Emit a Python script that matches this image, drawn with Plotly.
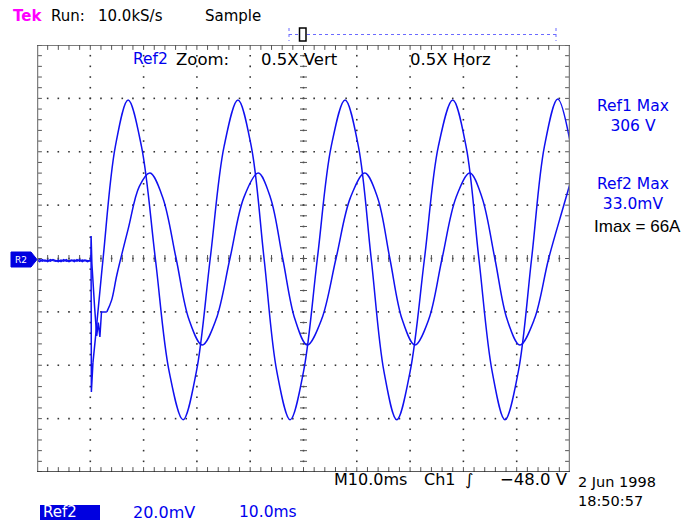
import numpy as np
import plotly.graph_objects as go

# ---------------- data (read from the screen) ----------------
# time in ms (10 ms/div, 10 div), amplitude in divisions
ref1_pre_t = [0.0, 0.5, 1.0, 1.5, 2.0, 2.5, 3.0, 3.5, 4.0, 4.5, 5.0, 5.5, 6.0, 6.5, 7.0,
              7.5, 8.0, 8.5, 9.0, 9.5, 10.0, 10.15, 10.2, 10.5]
ref1_pre_v = [-0.04, -0.02, -0.05, -0.03, -0.06, -0.02, -0.04, -0.05, -0.03, -0.06, -0.02,
              -0.05, -0.04, -0.03, -0.06, -0.02, -0.05, -0.03, -0.04, -0.06, -0.03, -0.03,
              -2.5, -1.95]
ref1_t = [10.5, 11.0, 12.4, 14.7, 17.1, 19.6, 22.2, 24.8, 27.4, 29.9, 32.5, 35.1, 37.7,
          40.2, 42.6, 45.0, 47.5, 50.0, 52.6, 55.2, 57.8, 60.3, 62.7, 65.1, 67.5, 70.0,
          72.7, 75.3, 78.0, 80.5, 82.9, 85.4, 87.8, 90.3, 92.8, 95.2, 97.7, 100.0]
ref1_v = [-1.95, -1.45, 0.0, 2.1, 2.97, 2.1, 0.0, -2.12, -3.02, -2.12, 0.0, 2.1, 2.97,
          2.1, 0.0, -2.12, -3.02, -2.12, 0.0, 2.1, 2.97, 2.1, 0.0, -2.12, -3.02, -2.12,
          0.0, 2.1, 2.97, 2.1, 0.0, -2.12, -3.02, -2.12, 0.0, 2.1, 2.99, 2.2]

ref2_pre_t = [0.0, 0.5, 1.0, 1.5, 2.0, 2.5, 3.0, 3.5, 4.0, 4.5, 5.0, 5.5, 6.0, 6.5, 7.0,
              7.5, 8.0, 8.5, 9.0, 9.5, 10.0, 10.1, 10.15, 10.3, 10.8, 11.2, 11.5, 11.8,
              12.1, 13.1]
ref2_pre_v = [-0.03, -0.06, -0.02, -0.05, -0.03, -0.05, -0.02, -0.04, -0.06, -0.03, -0.05,
              -0.02, -0.06, -0.04, -0.03, -0.05, -0.02, -0.06, -0.03, -0.04, -0.05, -0.04,
              0.42, -0.1, -0.9, -1.45, -1.2, -1.47, -1.0, -1.0]
ref2_t = [13.1, 14.0, 15.0, 17.1, 19.2, 21.2, 23.6, 26.1, 28.5, 31.0, 33.6, 36.2, 38.8,
          41.5, 43.8, 46.1, 48.4, 50.7, 53.4, 56.1, 58.8, 61.5, 63.9, 66.2, 68.5, 70.9,
          73.5, 76.0, 78.6, 81.2, 83.5, 85.9, 88.2, 90.6, 93.3, 96.0, 98.7, 100.0]
ref2_v = [-1.0, -0.78, -0.3, 0.55, 1.35, 1.6, 1.14, 0.0, -1.14, -1.62, -1.14, 0.0, 1.14,
          1.6, 1.14, 0.0, -1.14, -1.62, -1.14, 0.0, 1.14, 1.6, 1.14, 0.0, -1.14, -1.62,
          -1.14, 0.0, 1.14, 1.6, 1.14, 0.0, -1.14, -1.62, -1.14, 0.0, 0.95, 1.4]

top_left_texts = ["Tek", "Run:", "10.0kS/s", "Sample"]
zoom_texts = ["Ref2", "Zoom:", "0.5X Vert", "0.5X Horz"]
right_texts = ["Ref1 Max", "306 V", "Ref2 Max", "33.0mV", "Imax = 66A"]
bottom_texts = ["M10.0ms", "Ch1", "\u222b", "\u221248.0 V", "2 Jun 1998", "18:50:57"]
status_texts = ["Ref2", "20.0mV", "10.0ms"]

# ---------------- layout geometry ----------------
W, H = 683, 522
L, R, T, B = 37, 570, 45, 472
FONT = "DejaVu Sans"
BLUE = "#1010f0"
TXTBLUE = "#0000ee"


def px(x):
    return (x - L) / (R - L)


def py(y):
    return (B - y) / (B - T)


fig = go.Figure()

# grid dots / ticks
minor_x = np.round(np.arange(0, 100.001, 2), 3)
minor_y = np.round(np.arange(-4, 4.001, 0.2), 3)
major_x = [10, 20, 30, 40, 60, 70, 80, 90]
major_y = [-3, -2, -1, 1, 2, 3]

dx, dy = [], []
for xm in major_x:
    for yv in minor_y[1:-1]:
        dx.append(xm); dy.append(yv)
for ym in major_y:
    for xv in minor_x[1:-1]:
        dx.append(xv); dy.append(ym)
for yv in minor_y[1:-1]:
    dx.append(50); dy.append(yv)
for xv in minor_x[1:-1]:
    dx.append(xv); dy.append(0)
fig.add_trace(go.Scatter(x=dx, y=dy, mode="markers", hoverinfo="skip",
                         marker=dict(symbol="square", size=1.6, color="#333333",
                                     line=dict(width=0))))

# center-line ticks
fig.add_trace(go.Scatter(x=[50] * len(minor_y), y=minor_y, mode="markers", hoverinfo="skip",
                         marker=dict(symbol="line-ew", size=5, line=dict(width=1, color="#555555"))))
fig.add_trace(go.Scatter(x=minor_x, y=[0] * len(minor_x), mode="markers", hoverinfo="skip",
                         marker=dict(symbol="line-ns", size=5, line=dict(width=1, color="#555555"))))
# border ticks (half clipped)
fig.add_trace(go.Scatter(x=list(minor_x) * 2, y=[4] * len(minor_x) + [-4] * len(minor_x),
                         mode="markers", hoverinfo="skip", cliponaxis=True,
                         marker=dict(symbol="line-ns", size=7, line=dict(width=1, color="#555555"))))
fig.add_trace(go.Scatter(x=[0] * len(minor_y) + [100] * len(minor_y), y=list(minor_y) * 2,
                         mode="markers", hoverinfo="skip", cliponaxis=True,
                         marker=dict(symbol="line-ew", size=7, line=dict(width=1, color="#555555"))))

# waveforms
for tt, vv, shape in [(ref1_pre_t, ref1_pre_v, "linear"), (ref1_t, ref1_v, "spline"),
                      (ref2_pre_t, ref2_pre_v, "linear"), (ref2_t, ref2_v, "spline")]:
    fig.add_trace(go.Scatter(x=tt, y=vv, mode="lines", hoverinfo="skip",
                             line=dict(color=BLUE, width=1.5, shape=shape)))

# borders
fig.add_shape(type="line", x0=0, x1=0, y0=-4, y1=4, line=dict(color="#808080", width=2.5))
fig.add_shape(type="line", x0=100, x1=100, y0=-4, y1=4, line=dict(color="#808080", width=2.5))
fig.add_shape(type="line", x0=0, x1=100, y0=4, y1=4, line=dict(color="#505050", width=1.5))
fig.add_shape(type="line", x0=0, x1=100, y0=-4, y1=-4, line=dict(color="#202020", width=1.5))

# record indicator at top
fig.add_shape(type="line", xref="paper", yref="paper", x0=px(289), x1=px(556), y0=py(34.5), y1=py(34.5),
              line=dict(color="#6a6aff", width=1, dash="dot"))
for xe in (289, 556):
    fig.add_shape(type="line", xref="paper", yref="paper", x0=px(xe), x1=px(xe), y0=py(28), y1=py(41),
                  line=dict(color="#6a6aff", width=1, dash="dot"))
fig.add_shape(type="rect", xref="paper", yref="paper", x0=px(299.5), x1=px(306), y0=py(28), y1=py(41),
              fillcolor="white", line=dict(color="black", width=1.5))

# left reference marker
path = "M {} {} L {} {} L {} {} L {} {} L {} {} Z".format(
    px(11), py(252), px(31), py(252), px(37), py(259.5), px(31), py(267), px(11), py(267))
fig.add_shape(type="path", xref="paper", yref="paper", path=path, fillcolor="#0000e0",
              line=dict(color="#0000e0", width=1))
fig.add_annotation(text="R2", x=px(13), y=py(259.5), xref="paper", yref="paper", xanchor="left",
                   yanchor="middle", showarrow=False, font=dict(family=FONT, size=9, color="white"))

# bottom-left status box
fig.add_shape(type="rect", xref="paper", yref="paper", x0=px(40), x1=px(100), y0=py(505), y1=py(520),
              fillcolor="#0000e0", line=dict(width=0))


def ann(text, x, y, color="black", size=16, xanchor="left", family=FONT, align="left",
        weight="normal"):
    fig.add_annotation(text=text, x=px(x), y=py(y), xref="paper", yref="paper",
                       xanchor=xanchor, yanchor="middle", showarrow=False, align=align,
                       font=dict(family=family, size=size, color=color, weight=weight))


ann(top_left_texts[0], 11, 16, color="#ff00ff", size=15, weight="bold")
ann(top_left_texts[1], 49, 16, size=15)
ann(top_left_texts[2], 96, 16, size=15)
ann(top_left_texts[3], 203, 16, size=15)

ann(zoom_texts[0], 131, 59, color=TXTBLUE, size=15.5)
ann(zoom_texts[1], 174, 59, size=16.5)
ann(zoom_texts[2], 259, 59, size=16.5)
ann(zoom_texts[3], 408, 59, size=16.5)

ann(right_texts[0] + "<br>" + right_texts[1], 633, 116.5, color=TXTBLUE, size=15.5,
    xanchor="center", align="center")
ann(right_texts[2] + "<br>" + right_texts[3], 633, 194.5, color=TXTBLUE, size=15.5,
    xanchor="center", align="center")
ann(right_texts[4], 592, 226, size=17, family="Liberation Sans")

ann(bottom_texts[0], 332, 479, size=16)
ann(bottom_texts[1], 422, 479, size=16)
ann(bottom_texts[2], 463, 479, size=16)
ann(bottom_texts[3], 498, 479, size=16.5)
ann(bottom_texts[4] + "<br>" + bottom_texts[5], 576, 491, size=14.5)

ann(status_texts[0], 41, 512, color="white", size=15)
ann(status_texts[1], 131, 512, color=TXTBLUE, size=16)
ann(status_texts[2], 237, 512, color=TXTBLUE, size=15.5)

fig.update_layout(
    width=W, height=H,
    margin=dict(l=L, r=W - R, t=T, b=H - B, pad=0),
    paper_bgcolor="white", plot_bgcolor="white",
    showlegend=False,
    xaxis=dict(range=[0, 100], visible=False, fixedrange=True),
    yaxis=dict(range=[-4, 4], visible=False, fixedrange=True),
)

fig.write_html("out.html")
